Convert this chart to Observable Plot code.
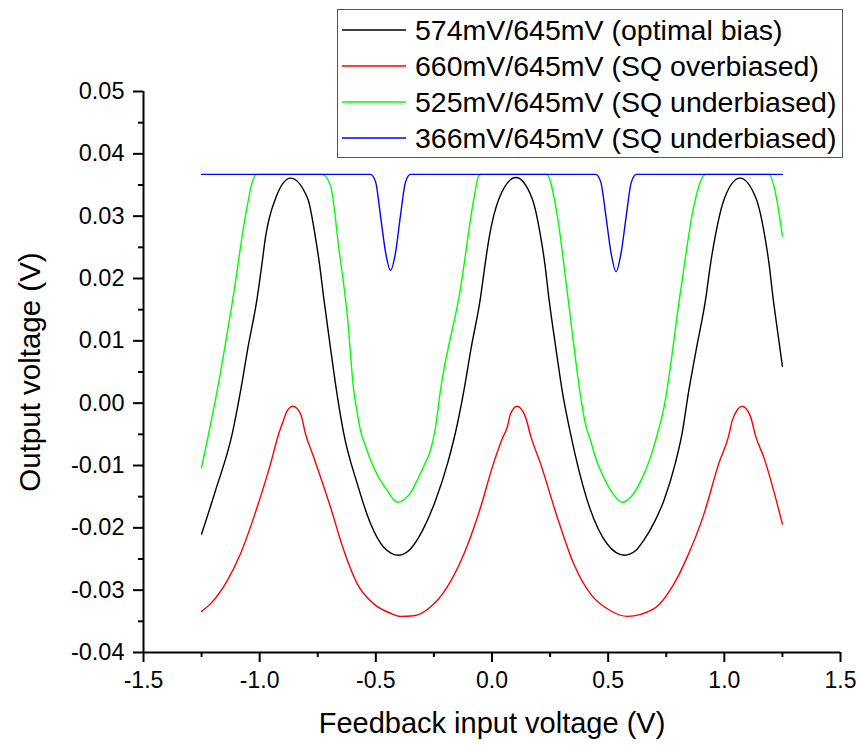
<!DOCTYPE html>
<html><head><meta charset="utf-8">
<script src="https://cdn.jsdelivr.net/npm/d3@7"></script>
<script src="https://cdn.jsdelivr.net/npm/@observablehq/plot@0.6"></script>
<style>
body{margin:0;background:#fff;}
#wrap{position:relative;width:860px;height:745px;font-family:"Liberation Sans",Arial,sans-serif;}
#legend{position:absolute;left:337px;top:9px;width:506px;height:149px;border:1.5px solid #555;background:#fff;box-sizing:border-box;}
.row{position:absolute;left:0;height:36px;display:flex;align-items:center;font-size:28.5px;color:#000;white-space:nowrap;}
.row svg{margin-left:4px;margin-right:9px;}
</style>
</head><body>
<div id="wrap"><div id="chart"></div><div id="legend"></div></div>
<script>
const seriesNames = ["574mV/645mV (optimal bias)", "660mV/645mV (SQ overbiased)", "525mV/645mV (SQ underbiased)", "366mV/645mV (SQ underbiased)"];
const seriesColors = ["#000000", "#ff0000", "#00ff00", "#0000ff"];

const optimalX = [-1.25,-1.19,-1.118,-1.082,-1.051,-1.011,-0.990,-0.975,-0.932,-0.867,-0.793,-0.760,-0.742,-0.724,-0.695,-0.666,-0.638,-0.580,-0.523,-0.466,-0.401,-0.351,-0.300,-0.243,-0.190,-0.150,-0.121,-0.090,-0.050,-0.030,-0.012,0.030,0.103,0.173,0.210,0.228,0.245,0.275,0.302,0.338,0.410,0.496,0.570,0.620,0.653,0.700,0.740,0.790,0.818,0.847,0.880,0.920,0.940,0.960,1.000,1.067,1.137,1.175,1.193,1.210,1.235,1.25];
const optimalY = [-0.0210,-0.0140,-0.0049,0.0020,0.0088,0.0168,0.0224,0.0266,0.0328,0.0361,0.0328,0.0266,0.0222,0.0168,0.0088,0.0012,-0.0049,-0.0129,-0.0193,-0.0231,-0.0244,-0.0234,-0.0205,-0.0156,-0.0095,-0.0035,0.0020,0.0088,0.0168,0.0222,0.0266,0.0328,0.0362,0.0328,0.0266,0.0222,0.0168,0.0088,0.0020,-0.0049,-0.0156,-0.0226,-0.0244,-0.0236,-0.0220,-0.0190,-0.0156,-0.0095,-0.0049,0.0020,0.0088,0.0168,0.0222,0.0266,0.0328,0.0361,0.0328,0.0266,0.0222,0.0168,0.0100,0.0059];

const overX = [-1.25,-1.212,-1.140,-1.083,-1.011,-0.953,-0.918,-0.903,-0.881,-0.857,-0.824,-0.803,-0.767,-0.695,-0.638,-0.580,-0.509,-0.437,-0.394,-0.337,-0.265,-0.193,-0.121,-0.049,0.001,0.044,0.065,0.080,0.108,0.144,0.166,0.209,0.281,0.352,0.424,0.510,0.582,0.696,0.783,0.840,0.912,0.976,1.019,1.034,1.077,1.113,1.134,1.170,1.25];
const overY = [-0.0334,-0.0322,-0.0285,-0.0242,-0.0167,-0.0097,-0.0049,-0.0033,-0.0012,-0.0005,-0.0017,-0.0049,-0.0087,-0.0167,-0.0236,-0.0290,-0.0322,-0.0337,-0.0342,-0.0341,-0.0327,-0.0295,-0.0242,-0.0167,-0.0103,-0.0057,-0.0039,-0.0017,-0.0005,-0.0022,-0.0052,-0.0097,-0.0183,-0.0258,-0.0306,-0.0333,-0.0342,-0.0330,-0.0290,-0.0247,-0.0178,-0.0097,-0.0052,-0.0028,-0.0005,-0.0022,-0.0052,-0.0087,-0.0194];

const under525X = [-1.25,-1.183,-1.111,-1.061,-1.025,-1.011,-0.731,-0.695,-0.659,-0.623,-0.595,-0.580,-0.566,-0.545,-0.527,-0.509,-0.480,-0.451,-0.425,-0.405,-0.380,-0.351,-0.320,-0.290,-0.265,-0.245,-0.222,-0.136,-0.078,-0.057,-0.045,0.235,0.281,0.324,0.381,0.400,0.424,0.450,0.481,0.520,0.560,0.596,0.640,0.682,0.715,0.740,0.811,0.869,0.905,0.920,1.192,1.213,1.25];
const under525Y = [-0.0103,0.0020,0.0178,0.0301,0.0362,0.0367,0.0367,0.0349,0.0248,0.0141,0.0020,-0.0015,-0.0044,-0.0068,-0.0087,-0.0103,-0.0124,-0.0140,-0.0154,-0.0159,-0.0155,-0.0144,-0.0122,-0.0098,-0.0076,-0.0043,0.0020,0.0183,0.0328,0.0365,0.0367,0.0367,0.0301,0.0178,0.0012,-0.0030,-0.0060,-0.0092,-0.0119,-0.0145,-0.0159,-0.0151,-0.0125,-0.0087,-0.0045,-0.0007,0.0178,0.0317,0.0362,0.0367,0.0367,0.0349,0.0268];

const under366X = [-1.25,-0.523,-0.501,-0.480,-0.458,-0.437,-0.415,-0.394,-0.372,-0.351,0.446,0.468,0.490,0.512,0.534,0.556,0.578,0.600,0.622,1.25];
const under366Y = [0.0367,0.0367,0.0355,0.0301,0.0242,0.0213,0.0242,0.0301,0.0355,0.0367,0.0367,0.0355,0.0301,0.0242,0.0211,0.0242,0.0301,0.0355,0.0367,0.0367];

const xMajor = [-1.5,-1.0,-0.5,0.0,0.5,1.0,1.5];
const xMinor = [-1.25,-0.75,-0.25,0.25,0.75,1.25];
const yMajor = [-0.04,-0.03,-0.02,-0.01,0.00,0.01,0.02,0.03,0.04,0.05];
const yMinor = [-0.035,-0.025,-0.015,-0.005,0.005,0.015,0.025,0.035,0.045];

const seriesXs = [optimalX, overX, under525X, under366X];
const seriesYs = [optimalY, overY, under525Y, under366Y];
const rows = [];
seriesNames.forEach((name, i) => {
  seriesXs[i].forEach((x, j) => rows.push({series: name, x, y: seriesYs[i][j]}));
});

const font = '"Liberation Sans", Arial, sans-serif';
const chart = Plot.plot({
  width: 860, height: 745,
  marginLeft: 143, marginRight: 20, marginTop: 91, marginBottom: 93,
  style: {fontFamily: font, color: "#000", background: "#fff"},
  x: {domain: [-1.5, 1.5]},
  y: {domain: [-0.04, 0.05]},
  color: {domain: seriesNames, range: seriesColors},
  marks: [
    Plot.line(rows, {x: "x", y: "y", z: "series", stroke: "series", strokeWidth: 1.4, curve: "monotone-x"}),
    Plot.axisX(xMajor, {tickSize: 10, tickPadding: 9, strokeWidth: 2, fontSize: 23, tickFormat: d => d.toFixed(1), label: null}),
    Plot.axisX(xMinor, {tickSize: 5, strokeWidth: 2, tickFormat: () => "", label: null}),
    Plot.axisY(yMajor, {tickSize: 10, tickPadding: 9, strokeWidth: 2, fontSize: 23.5, tickFormat: d => d.toFixed(2), label: null}),
    Plot.axisY(yMinor, {tickSize: 5, strokeWidth: 2, tickFormat: () => "", label: null}),
    Plot.axisX([], {tickSize: 0, fontSize: 29, label: "Feedback input voltage (V)", labelAnchor: "center", labelArrow: "none", labelOffset: 80}),
    Plot.axisY([], {tickSize: 0, fontSize: 29.5, label: "Output voltage (V)", labelAnchor: "center", labelArrow: "none", labelOffset: 124}),
    Plot.ruleX([-1.5], {strokeWidth: 2}),
    Plot.ruleY([-0.04], {strokeWidth: 2})
  ]
});
document.getElementById("chart").appendChild(chart);

const legend = document.getElementById("legend");
seriesNames.forEach((name, i) => {
  const row = document.createElement("div");
  row.className = "row";
  row.style.top = (2 + i * 36) + "px";
  row.innerHTML = `<svg width="64" height="4"><line x1="0" x2="64" y1="2" y2="2" stroke="${seriesColors[i]}" stroke-width="1.4"/></svg><span></span>`;
  row.querySelector("span").textContent = name;
  legend.appendChild(row);
});
</script>
</body></html>
